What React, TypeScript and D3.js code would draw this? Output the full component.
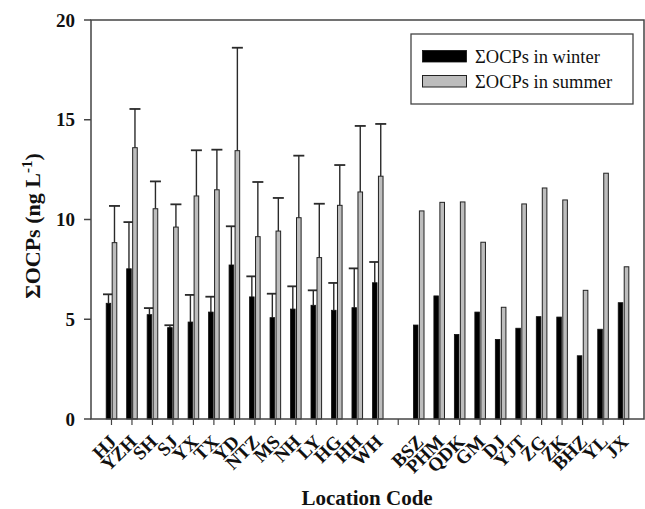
import React from "react";
import * as d3 from "d3";

const groupA = ["HJ","YZH","SH","SJ","YX","TX","YD","NTZ","MS","NH","LY","HG","HH","WH"];
const groupB = ["BSZ","PHM","QDK","GM","DJ","YJT","ZG","ZK","BHZ","YL","JX"];
const slots = [...groupA, "", ...groupB];

const winterA = [5.80,7.53,5.23,4.58,4.86,5.36,7.72,6.12,5.08,5.51,5.70,5.45,5.58,6.83];
const winterErrA = [0.45,2.34,0.33,0.12,1.36,0.77,1.94,1.03,1.20,1.14,0.75,1.37,1.97,1.04];
const summerA = [8.84,13.60,10.54,9.62,11.18,11.49,13.45,9.14,9.42,10.09,8.09,10.71,11.38,12.17];
const summerErrA = [1.84,1.94,1.37,1.14,2.29,2.01,5.16,2.74,1.66,3.11,2.70,2.02,3.31,2.62];

const winterB = [4.71,6.17,4.24,5.36,3.99,4.55,5.13,5.11,3.17,4.50,5.83];
const summerB = [10.43,10.86,10.88,8.86,5.60,10.78,11.58,10.98,6.45,12.32,7.63];

const yTicks = [0,5,10,15,20];
const seriesNames = ["\u03A3OCPs in winter","\u03A3OCPs in summer"];

type Row = { name: string; w: number; s: number; we: number | null; se: number | null };
const rows: Row[] = [
  ...groupA.map((n, i) => ({ name: n, w: winterA[i], s: summerA[i], we: winterErrA[i], se: summerErrA[i] })),
  ...groupB.map((n, i) => ({ name: n, w: winterB[i], s: summerB[i], we: null, se: null })),
];

const W = 645, H = 509;
const L = 91, R = 644, T = 20, B = 419;
const FONT = "'Liberation Serif', 'Times New Roman', serif";
const DARK = "#2a2a2a";

export default function App() {
  const x = d3.scalePoint<number>().domain(d3.range(slots.length)).range([L, R]).padding(1);
  const y = d3.scaleLinear().domain([0, 20]).range([B, T]);
  const bw = 4.6;
  const cap = 5.5;

  return (
    <svg width={W} height={H} style={{ position: "absolute", left: 0, top: 0, background: "#fff" }} fontFamily={FONT}>
      {/* bars */}
      {rows.map((r) => {
        const idx = slots.indexOf(r.name);
        const cx = x(idx)!;
        const wx = cx - 0.7 - bw;
        const sx = cx + 0.7;
        return (
          <g key={r.name}>
            {r.we != null && (
              <g stroke={DARK} strokeWidth={1.4}>
                <line x1={wx + bw / 2} x2={wx + bw / 2} y1={y(r.w)} y2={y(r.w + r.we)} />
                <line x1={wx + bw / 2 - cap} x2={wx + bw / 2 + cap} y1={y(r.w + r.we)} y2={y(r.w + r.we)} strokeWidth={1.8} />
              </g>
            )}
            {r.se != null && (
              <g stroke={DARK} strokeWidth={1.4}>
                <line x1={sx + bw / 2} x2={sx + bw / 2} y1={y(r.s)} y2={y(r.s + r.se)} />
                <line x1={sx + bw / 2 - cap} x2={sx + bw / 2 + cap} y1={y(r.s + r.se)} y2={y(r.s + r.se)} strokeWidth={1.8} />
              </g>
            )}
            <rect x={wx} y={y(r.w)} width={bw} height={B - y(r.w)} fill="#000" stroke="#111" strokeWidth={0.8} />
            <rect x={sx} y={y(r.s)} width={bw} height={B - y(r.s)} fill="#bdbdbd" stroke="#222" strokeWidth={1} />
          </g>
        );
      })}

      {/* frame */}
      <rect x={L} y={T} width={R - L} height={B - T} fill="none" stroke="#444" strokeWidth={1.5} />

      {/* y axis ticks */}
      {yTicks.map((t) => (
        <g key={t}>
          <line x1={L - 7} x2={L} y1={y(t)} y2={y(t)} stroke="#444" strokeWidth={1.5} />
          <text x={75} y={y(t)} dy="0.35em" textAnchor="end" fontSize={19} fontWeight="bold" fill="#111">{t}</text>
        </g>
      ))}

      {/* x axis ticks */}
      {slots.map((s, i) => (
        <g key={i}>
          <line x1={x(i)!} x2={x(i)!} y1={B} y2={B + 6} stroke="#444" strokeWidth={1.2} />
          {s && (
            <text transform={`translate(${x(i)! + 6},${B + 24}) rotate(-45)`} textAnchor="end" fontSize={19} fontWeight="bold" fill="#111">{s}</text>
          )}
        </g>
      ))}

      {/* axis titles */}
      <text transform={`translate(40,226) rotate(-90)`} textAnchor="middle" fontSize={22} fontWeight="bold" fill="#111">
        {"\u03A3OCPs (ng L"}<tspan baselineShift="super" fontSize={15}>-1</tspan>{")"}
      </text>
      <text x={367} y={505} textAnchor="middle" fontSize={21} fontWeight="bold" fill="#111">Location Code</text>

      {/* legend */}
      <rect x={411} y={34} width={222} height={70} fill="#fff" stroke="#444" strokeWidth={1.3} />
      <rect x={422.5} y={50.5} width={44} height={11.5} fill="#000" stroke="#111" strokeWidth={0.8} />
      <rect x={422.5} y={75.5} width={44} height={11.5} fill="#bdbdbd" stroke="#222" strokeWidth={1} />
      <text x={475} y={62.5} fontSize={18.5} fill="#111">{seriesNames[0]}</text>
      <text x={475} y={88} fontSize={18.5} fill="#111">{seriesNames[1]}</text>
    </svg>
  );
}
